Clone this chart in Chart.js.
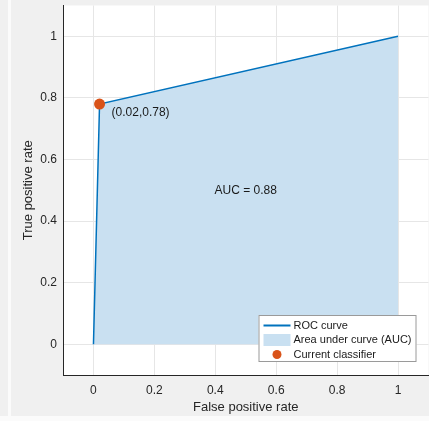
<!DOCTYPE html>
<html>
<head>
<meta charset="utf-8">
<script src="https://cdn.jsdelivr.net/npm/chart.js@4/dist/chart.umd.min.js"></script>
<style>
  html, body { margin: 0; padding: 0; background: #ffffff; overflow: hidden; }
  #wrap { width: 429px; height: 421px; overflow: hidden; }
</style>
</head>
<body>
<div id="wrap"><canvas id="rocChart" width="434" height="421"></canvas></div>
<script>
// ROC data
const fprValues = [0, 0.02, 1];
const tprValues = [0, 0.78, 1];
const classifierFpr = [0.02];
const classifierTpr = [0.78];
const aucValue = 0.88;
const xTicks = [0, 0.2, 0.4, 0.6, 0.8, 1];
const yTicks = [0, 0.2, 0.4, 0.6, 0.8, 1];
const legendLabels = ['ROC curve', 'Area under curve (AUC)', 'Current classifier'];

const rocPoints = fprValues.map((x, i) => ({ x: x, y: tprValues[i] }));
const classifierPoints = classifierFpr.map((x, i) => ({ x: x, y: classifierTpr[i] }));

const lineBlue = '#0072bd';
const areaBlue = '#c9e0f1';
const dotOrange = '#d95319';
const textGray = '#262626';
const fontName = '"Liberation Sans", Arial, sans-serif';

// grey figure background + white axes box
const backdrop = {
  id: 'backdrop',
  beforeDraw(chart) {
    const ctx = chart.ctx, a = chart.chartArea;
    ctx.save();
    ctx.fillStyle = '#f0f0f0';
    ctx.fillRect(0, 0, chart.width, chart.height);
    ctx.fillStyle = '#fbfbfb';
    ctx.fillRect(8, 0, 3, 416);
    ctx.fillRect(0, 416, chart.width, chart.height - 416);
    ctx.fillStyle = '#ffffff';
    ctx.fillRect(a.left, a.top, a.right - a.left, a.bottom - a.top);
    ctx.restore();
  }
};

// text labels inside the plot
const notes = {
  id: 'notes',
  afterDatasetsDraw(chart) {
    const ctx = chart.ctx, xs = chart.scales.x, ys = chart.scales.y;
    ctx.save();
    ctx.fillStyle = '#1a1a1a';
    ctx.font = '12px ' + fontName;
    ctx.textBaseline = 'middle';
    ctx.textAlign = 'left';
    const px = xs.getPixelForValue(classifierFpr[0]);
    const py = ys.getPixelForValue(classifierTpr[0]);
    ctx.fillText('(' + classifierFpr[0] + ',' + classifierTpr[0] + ')', px + 12, py + 9);
    ctx.textAlign = 'center';
    ctx.fillText('AUC = ' + aucValue, xs.getPixelForValue(0.5), ys.getPixelForValue(0.5));
    ctx.restore();
  }
};

// legend box in the lower right corner
const boxLegend = {
  id: 'boxLegend',
  afterDraw(chart) {
    const ctx = chart.ctx, a = chart.chartArea;
    const w = 158, h = 47;
    const bx = a.right - 12 - w, by = a.bottom - 13 - h;
    ctx.save();
    ctx.fillStyle = '#ffffff';
    ctx.fillRect(bx, by, w, h);
    ctx.strokeStyle = '#9a9a9a';
    ctx.lineWidth = 1;
    ctx.strokeRect(bx + 0.5, by + 0.5, w - 1, h - 1);

    const sx = bx + 5, sw = 27;
    const rows = [by + 10.5, by + 25, by + 39.5];
    ctx.strokeStyle = lineBlue;
    ctx.lineWidth = 2;
    ctx.beginPath();
    ctx.moveTo(sx, rows[0]);
    ctx.lineTo(sx + sw, rows[0]);
    ctx.stroke();
    ctx.fillStyle = areaBlue;
    ctx.fillRect(sx, rows[1] - 6, sw, 12);
    ctx.fillStyle = dotOrange;
    ctx.beginPath();
    ctx.arc(sx + sw / 2, rows[2], 4.5, 0, Math.PI * 2);
    ctx.fill();

    ctx.fillStyle = '#1a1a1a';
    ctx.font = '11px ' + fontName;
    ctx.textBaseline = 'middle';
    ctx.textAlign = 'left';
    legendLabels.forEach((t, i) => ctx.fillText(t, sx + sw + 3, rows[i]));
    ctx.restore();
  }
};

new Chart(document.getElementById('rocChart'), {
  type: 'line',
  data: {
    datasets: [
      { label: legendLabels[2], data: classifierPoints, showLine: false, pointRadius: 5.5,
        pointBackgroundColor: dotOrange, pointBorderColor: dotOrange, pointBorderWidth: 0 },
      { label: legendLabels[0], data: rocPoints, borderColor: lineBlue, borderWidth: 1.5,
        pointRadius: 0, fill: false, tension: 0 },
      { label: legendLabels[1], data: rocPoints, borderColor: 'transparent', borderWidth: 0,
        backgroundColor: areaBlue, pointRadius: 0, fill: 'origin', tension: 0 }
    ]
  },
  options: {
    responsive: false,
    animation: false,
    layout: { padding: { top: 5, right: 1, left: 0, bottom: 0 } },
    plugins: { legend: { display: false }, tooltip: { enabled: false } },
    scales: {
      x: {
        type: 'linear', min: -0.1, max: 1.1,
        afterBuildTicks: s => { s.ticks = xTicks.map(v => ({ value: v })); },
        afterFit: s => { s.height = 46; s.paddingLeft = 0; s.paddingRight = 0; },
        grid: { color: '#e6e6e6', drawTicks: false },
        border: { color: textGray },
        ticks: { padding: 8, color: textGray, font: { family: fontName, size: 12 }, callback: v => String(v) },
        title: { display: true, text: 'False positive rate', color: textGray,
          font: { family: fontName, size: 13 }, padding: { top: 6, bottom: 6 } }
      },
      y: {
        type: 'linear', min: -0.1, max: 1.1,
        afterBuildTicks: s => { s.ticks = yTicks.map(v => ({ value: v })); },
        afterFit: s => { s.width = 63; s.paddingTop = 0; s.paddingBottom = 0; },
        grid: { color: '#e6e6e6', drawTicks: false },
        border: { color: textGray },
        ticks: { padding: 6, color: textGray, font: { family: fontName, size: 12 }, callback: v => String(v) },
        title: { display: true, text: 'True positive rate', color: textGray,
          font: { family: fontName, size: 13 }, padding: { top: 21, bottom: 21 } }
      }
    }
  },
  plugins: [backdrop, notes, boxLegend]
});
</script>
</body>
</html>
